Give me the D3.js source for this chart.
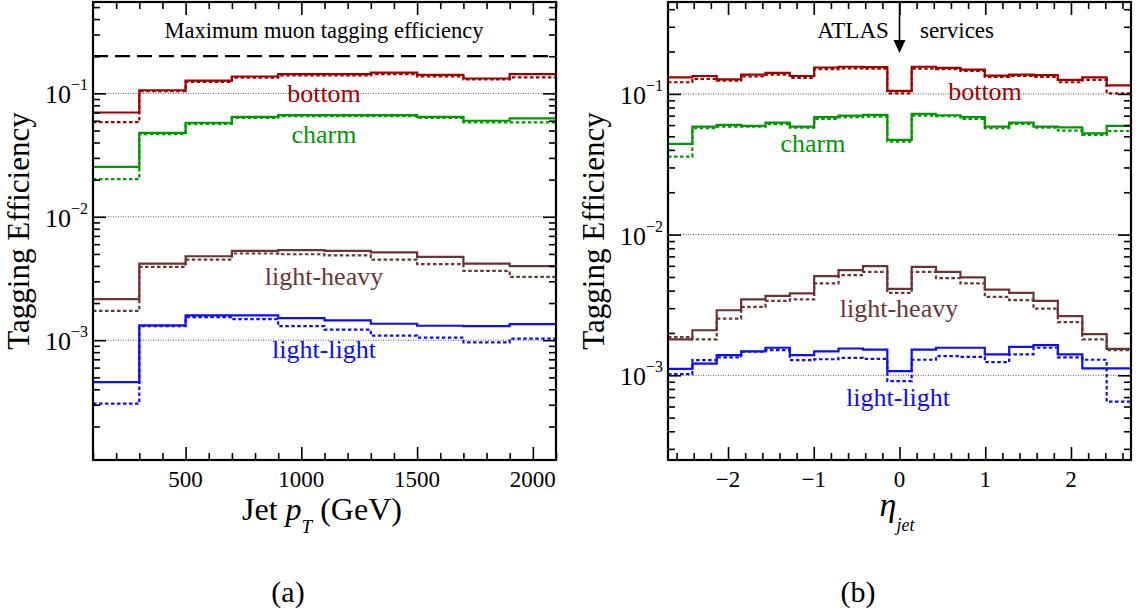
<!DOCTYPE html>
<html><head><meta charset="utf-8">
<script src="https://cdn.jsdelivr.net/npm/d3@7"></script>
<style>
body{margin:0;background:#fff}
svg{display:block}
text{font-family:"Liberation Serif","Times New Roman",serif;fill:#000}
</style>
</head><body>
<svg id="c" width="1138" height="615"></svg>
<script>
// ---------- data ----------
const ptEdges = [100, 300, 500, 700, 900, 1100, 1300, 1500, 1700, 1900, 2100];
const etaEdges = [-2.7, -2.416, -2.132, -1.847, -1.563, -1.279, -0.995, -0.711, -0.426, -0.142,
                  0.142, 0.426, 0.711, 0.995, 1.279, 1.563, 1.847, 2.132, 2.416, 2.7];

const ptBottom     = [0.070, 0.106, 0.127, 0.137, 0.143, 0.143, 0.147, 0.141, 0.132, 0.143];
const ptBottomDot  = [0.0585, 0.104, 0.124, 0.134, 0.140, 0.140, 0.143, 0.137, 0.130, 0.135];
const ptCharm      = [0.0254, 0.0479, 0.0578, 0.0646, 0.0667, 0.0667, 0.0667, 0.0646, 0.060, 0.0627];
const ptCharmDot   = [0.0202, 0.0468, 0.0567, 0.0634, 0.0654, 0.0654, 0.0654, 0.0634, 0.0582, 0.0582];
const ptLH         = [0.00215, 0.00418, 0.00479, 0.00529, 0.00536, 0.00529, 0.00514, 0.00473, 0.00418, 0.00398];
const ptLHDot      = [0.00173, 0.00393, 0.00450, 0.00504, 0.00497, 0.00486, 0.00450, 0.00413, 0.00364, 0.00326];
const ptLL         = [0.000458, 0.00132, 0.00159, 0.00159, 0.00151, 0.00145, 0.00136, 0.00131, 0.00130, 0.00135];
const ptLLDot      = [0.000306, 0.00130, 0.00154, 0.00148, 0.00130, 0.00122, 0.00109, 0.00105, 0.00096, 0.00103];

const etaBottom    = [0.131, 0.134, 0.127, 0.137, 0.141, 0.134, 0.154, 0.156, 0.155, 0.105, 0.156, 0.153, 0.149, 0.135, 0.137, 0.136, 0.126, 0.131, 0.115];
const etaBottomDot = [0.121, 0.128, 0.124, 0.133, 0.137, 0.130, 0.150, 0.152, 0.151, 0.101, 0.151, 0.150, 0.146, 0.132, 0.134, 0.132, 0.121, 0.126, 0.101];
const etaCharm     = [0.0441, 0.0585, 0.0602, 0.0592, 0.0625, 0.0585, 0.0683, 0.0701, 0.0709, 0.0471, 0.0721, 0.0705, 0.0683, 0.0585, 0.0625, 0.0585, 0.0579, 0.0525, 0.0592];
const etaCharmDot  = [0.0358, 0.0570, 0.0585, 0.0585, 0.0609, 0.0575, 0.0664, 0.0683, 0.0690, 0.0458, 0.0701, 0.0694, 0.0664, 0.0570, 0.0612, 0.0575, 0.0548, 0.0511, 0.0545];
const etaLH        = [0.00180, 0.00209, 0.00290, 0.00346, 0.00367, 0.00382, 0.00507, 0.00559, 0.00597, 0.00411, 0.00590, 0.00544, 0.00496, 0.00407, 0.00385, 0.00338, 0.00263, 0.00196, 0.00154];
const etaLHDot     = [0.00187, 0.00180, 0.00253, 0.00306, 0.00338, 0.00346, 0.00450, 0.00515, 0.00544, 0.00385, 0.00544, 0.00490, 0.00450, 0.00361, 0.00342, 0.00298, 0.00239, 0.00180, 0.00151];
const etaLL        = [0.00111, 0.00121, 0.00139, 0.00148, 0.00157, 0.00139, 0.00148, 0.00155, 0.00152, 0.00107, 0.00152, 0.00157, 0.00157, 0.00141, 0.00159, 0.00164, 0.00141, 0.00112, 0.00112];
const etaLLDot     = [0.00102, 0.00128, 0.00134, 0.00147, 0.00151, 0.00128, 0.00130, 0.00133, 0.00131, 0.00091, 0.00129, 0.00137, 0.00135, 0.00124, 0.00141, 0.00157, 0.00134, 0.00129, 0.00065];

const maxMuonEff = 0.2;
const ptMajorTicks = [500, 1000, 1500, 2000];
const etaMajorTicks = [-2, -1, 0, 1, 2];
const yMajorTicks = [1e-3, 1e-2, 1e-1];
const yTickExp = ["\u22123", "\u22122", "\u22121"];

const seriesNames = ["bottom", "charm", "light-heavy", "light-light"];
const seriesColors = ["#a30000", "#009a00", "#6b3535", "#0c0cff"];

// ---------- drawing ----------
const svg = d3.select("#c");

function minorLog(domain) {
  const out = [];
  for (let e = -5; e <= 0; e++) for (let k = 2; k <= 9; k++) {
    const v = k * Math.pow(10, e);
    if (v > domain[0] * 1.0001 && v < domain[1]) out.push(v);
  }
  return out;
}
function minorLin(a, b, step) {
  const out = [];
  const n0 = Math.ceil(a / step - 1e-9), n1 = Math.floor(b / step + 1e-9);
  for (let n = n0; n <= n1; n++) out.push(+(n * step).toFixed(6));
  return out;
}

function panel(cfg) {
  const {x0, x1, y0, y1, xDom, yDom, edges, series, xMinorStep, xMajor, id} = cfg;
  const x = d3.scaleLinear().domain(xDom).range([x0, x1]);
  const y = d3.scaleLog().domain(yDom).range([y1, y0]);
  const g = svg.append("g");

  g.append("clipPath").attr("id", "clip" + id).append("rect")
    .attr("x", x0).attr("y", y0).attr("width", x1 - x0).attr("height", y1 - y0);

  // grid at decades
  g.selectAll(".grid").data(yMajorTicks).join("line")
    .attr("x1", x0).attr("x2", x1).attr("y1", d => y(d)).attr("y2", d => y(d))
    .attr("stroke", "#555").attr("stroke-width", 1).attr("stroke-dasharray", "1,1.5");

  const pg = g.append("g").attr("clip-path", `url(#clip${id})`);
  const line = d3.line().x(d => x(d[0])).y(d => y(d[1]));
  series.forEach(s => {
    const pts = [];
    s.vals.forEach((v, i) => { pts.push([edges[i], v]); pts.push([edges[i + 1], v]); });
    pg.append("path").attr("d", line(pts)).attr("fill", "none")
      .attr("stroke", s.color).attr("stroke-width", 2.2)
      .attr("stroke-dasharray", s.dot ? "3.5,2.5" : null);
  });
  if (cfg.extra) cfg.extra(g, pg, x, y);

  // axes ticks (inward, mirrored)
  const xMinor = minorLin(xDom[0], xDom[1], xMinorStep).filter(v => !xMajor.includes(v));
  const yMinor = minorLog(yDom);
  const tick = (sel) => sel.call(a => a.select(".domain").remove())
    .call(a => a.selectAll("line").attr("stroke", "#000").attr("stroke-width", 1.6))
    .call(a => a.selectAll("text").remove());
  [[xMinor, 7], [xMajor, 13]].forEach(([vals, len]) => {
    g.append("g").attr("transform", `translate(0,${y1})`)
      .call(d3.axisBottom(x).tickValues(vals).tickSize(-len).tickFormat("")).call(tick);
    g.append("g").attr("transform", `translate(0,${y0})`)
      .call(d3.axisTop(x).tickValues(vals).tickSize(-len).tickFormat("")).call(tick);
  });
  [[yMinor, 7], [yMajorTicks, 13]].forEach(([vals, len]) => {
    g.append("g").attr("transform", `translate(${x0},0)`)
      .call(d3.axisLeft(y).tickValues(vals).tickSize(-len).tickFormat("")).call(tick);
    g.append("g").attr("transform", `translate(${x1},0)`)
      .call(d3.axisRight(y).tickValues(vals).tickSize(-len).tickFormat("")).call(tick);
  });

  // frame
  g.append("rect").attr("x", x0).attr("y", y0).attr("width", x1 - x0).attr("height", y1 - y0)
    .attr("fill", "none").attr("stroke", "#000").attr("stroke-width", 2.2);

  // x tick labels
  g.selectAll(".xl").data(xMajor).join("text")
    .attr("x", d => x(d)).attr("y", y1 + 27).attr("text-anchor", "middle")
    .attr("font-size", 23)
    .text(d => cfg.xFmt(d));

  // y tick labels
  yMajorTicks.forEach((v, i) => {
    const t = g.append("text").attr("x", x0 - 5).attr("y", y(v) + 10)
      .attr("text-anchor", "end").attr("font-size", 26);
    t.append("tspan").text("10");
    t.append("tspan").attr("font-size", 16).attr("dy", -13).text(yTickExp[i]);
  });

  // y title
  g.append("text").attr("transform", `translate(${x0 - 64},${(y0 + y1) / 2}) rotate(-90)`)
    .attr("text-anchor", "middle").attr("font-size", 31).text("Tagging Efficiency");

  // labels
  cfg.labels.forEach(l => {
    g.append("text").attr("x", l.x).attr("y", l.y).attr("text-anchor", "middle")
      .attr("font-size", 26).style("fill", l.color).text(l.text);
  });
  return {x, y, g};
}

const series = (vals) => vals.map(v => ({vals: v[0], dot: v[1], color: seriesColors[v[2]]}));

panel({
  id: "a", x0: 93, x1: 556, y0: 2, y1: 460,
  xDom: [100, 2100], yDom: [1.07e-4, 0.55], edges: ptEdges,
  xMinorStep: 100, xMajor: ptMajorTicks, xFmt: d => d,
  series: series([[ptBottomDot, true, 0], [ptBottom, false, 0], [ptCharmDot, true, 1], [ptCharm, false, 1],
                  [ptLHDot, true, 2], [ptLH, false, 2], [ptLLDot, true, 3], [ptLL, false, 3]]),
  labels: [
    {text: seriesNames[0], x: 324, y: 102, color: seriesColors[0]},
    {text: seriesNames[1], x: 324, y: 143, color: seriesColors[1]},
    {text: seriesNames[2], x: 324, y: 285, color: seriesColors[2]},
    {text: seriesNames[3], x: 324, y: 358, color: seriesColors[3]},
  ],
  extra: (g, pg, x, y) => {
    pg.append("line").attr("x1", x(100)).attr("x2", x(2100))
      .attr("y1", y(maxMuonEff)).attr("y2", y(maxMuonEff))
      .attr("stroke", "#000").attr("stroke-width", 2.2).attr("stroke-dasharray", "15,7");
    g.append("text").attr("x", 324).attr("y", 38).attr("text-anchor", "middle")
      .attr("font-size", 22.5).text("Maximum muon tagging efficiency");
  }
});

panel({
  id: "b", x0: 668, x1: 1131, y0: 2, y1: 460,
  xDom: [-2.7, 2.7], yDom: [2.5e-4, 0.45], edges: etaEdges,
  xMinorStep: 0.2, xMajor: etaMajorTicks, xFmt: d => d < 0 ? "\u2212" + Math.abs(d) : d,
  series: series([[etaBottomDot, true, 0], [etaBottom, false, 0], [etaCharmDot, true, 1], [etaCharm, false, 1],
                  [etaLHDot, true, 2], [etaLH, false, 2], [etaLLDot, true, 3], [etaLL, false, 3]]),
  labels: [
    {text: seriesNames[0], x: 985, y: 100, color: seriesColors[0]},
    {text: seriesNames[1], x: 813, y: 152, color: seriesColors[1]},
    {text: seriesNames[2], x: 899, y: 317, color: seriesColors[2]},
    {text: seriesNames[3], x: 898, y: 406, color: seriesColors[3]},
  ],
  extra: (g, pg, x, y) => {
    const ax = x(0);
    g.append("line").attr("x1", ax).attr("x2", ax).attr("y1", 3).attr("y2", 42)
      .attr("stroke", "#000").attr("stroke-width", 1.6);
    g.append("path").attr("d", `M${ax - 6},40 L${ax + 6},40 L${ax},53 Z`).attr("fill", "#000");
    g.append("text").attr("x", 853).attr("y", 38).attr("text-anchor", "middle")
      .attr("font-size", 23).text("ATLAS");
    g.append("text").attr("x", 957).attr("y", 38).attr("text-anchor", "middle")
      .attr("font-size", 23).text("services");
  }
});

// x titles
const t1 = svg.append("text").attr("x", 322).attr("y", 520).attr("text-anchor", "middle").attr("font-size", 32);
t1.append("tspan").text("Jet ");
t1.append("tspan").attr("font-style", "italic").text("p");
t1.append("tspan").attr("font-size", 19).attr("font-style", "italic").attr("dy", 13).text("T");
t1.append("tspan").attr("dy", -13).text(" (GeV)");

const t2 = svg.append("text").attr("x", 897).attr("y", 516).attr("text-anchor", "middle").attr("font-size", 34);
t2.append("tspan").attr("font-style", "italic").text("\u03b7");
t2.append("tspan").attr("font-size", 18).attr("font-style", "italic").attr("dy", 15).text("jet");

svg.append("text").attr("x", 288).attr("y", 602).attr("text-anchor", "middle").attr("font-size", 30).text("(a)");
svg.append("text").attr("x", 858).attr("y", 602).attr("text-anchor", "middle").attr("font-size", 30).text("(b)");
</script>
</body></html>
